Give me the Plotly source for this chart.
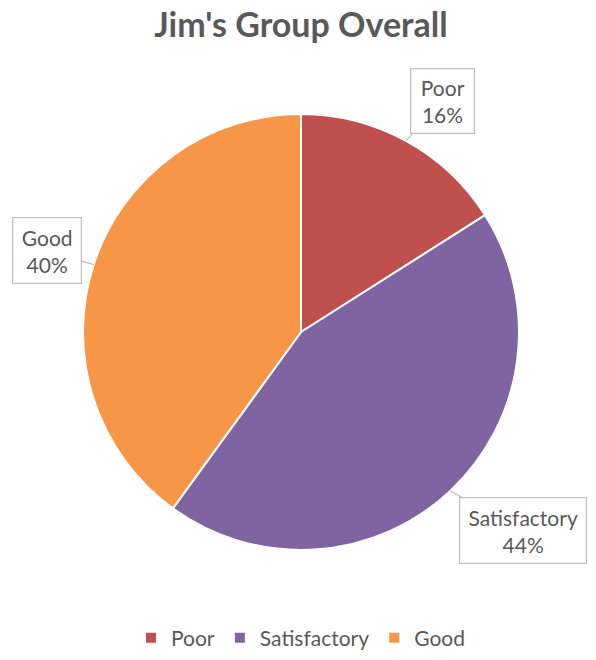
import math
import plotly.graph_objects as go

categories = ["Poor", "Satisfactory", "Good"]
values = [16, 44, 40]
colors = ["#C0504D", "#8064A2", "#F79646"]
title_text = "Jim's Group Overall"

W, H = 596, 660
FONT = "Lato"
TXT = "#595959"

# page offset of the plot div (body margin removed below)
OFF_X, OFF_Y = 0, 0


def px_x(px):
    return (px - OFF_X) / W


def px_y(py):
    return 1 - (py - OFF_Y) / H


# desired pie centre / radius in screen px
CX, CY, R = 301, 332, 218
dom_x = [px_x(CX - R), px_x(CX + R)]
dom_y = [px_y(CY + R), px_y(CY - R)]

fig = go.Figure(go.Pie(
    labels=categories, values=values, sort=False, direction="clockwise",
    rotation=0, marker=dict(colors=colors, line=dict(color="white", width=2)),
    textinfo="none", hoverinfo="label+percent", domain=dict(x=dom_x, y=dom_y),
))

# callout label offsets (px) from slice edge midpoint to box center
offsets = [(36, -40), (73, 40), (-47, -14)]
boxes = [(59, 60), (122, 61), (64, 61)]
total = sum(values)
cum = 0
annotations = []
for cat, v, (ox, oy), (bw, bh) in zip(categories, values, offsets, boxes):
    mid = (cum + v / 2) / total * 2 * math.pi
    cum += v
    ex = CX + R * math.sin(mid)
    ey = CY - R * math.cos(mid)
    pct = round(v / total * 100)
    annotations.append(dict(
        x=px_x(ex), y=px_y(ey), xref="paper", yref="paper",
        text=f"{cat}<br>{pct}%", showarrow=True, arrowhead=0, arrowwidth=1.2,
        arrowcolor="#BFBFBF", ax=ox, ay=oy, standoff=0,
        font=dict(family=FONT, size=21, color=TXT),
        bgcolor="white", bordercolor="#BFBFBF", borderwidth=1.2, borderpad=2,
        width=bw, height=bh, align="center",
    ))

fig.update_layout(
    width=W, height=H, margin=dict(l=0, r=0, t=0, b=0),
    paper_bgcolor="white", plot_bgcolor="white",
    title=dict(text=f"<b>{title_text}</b>", x=px_x(301), xanchor="center",
               y=px_y(25), yanchor="middle",
               font=dict(family=FONT, size=34, color=TXT)),
    legend=dict(orientation="h", x=px_x(301), xanchor="center", y=px_y(638),
                yanchor="middle", font=dict(family=FONT, size=21, color=TXT),
                traceorder="normal"),
    annotations=annotations,
)

fig.write_html("out.html", config={"displayModeBar": False},
               post_script="document.body.style.margin='0';")
